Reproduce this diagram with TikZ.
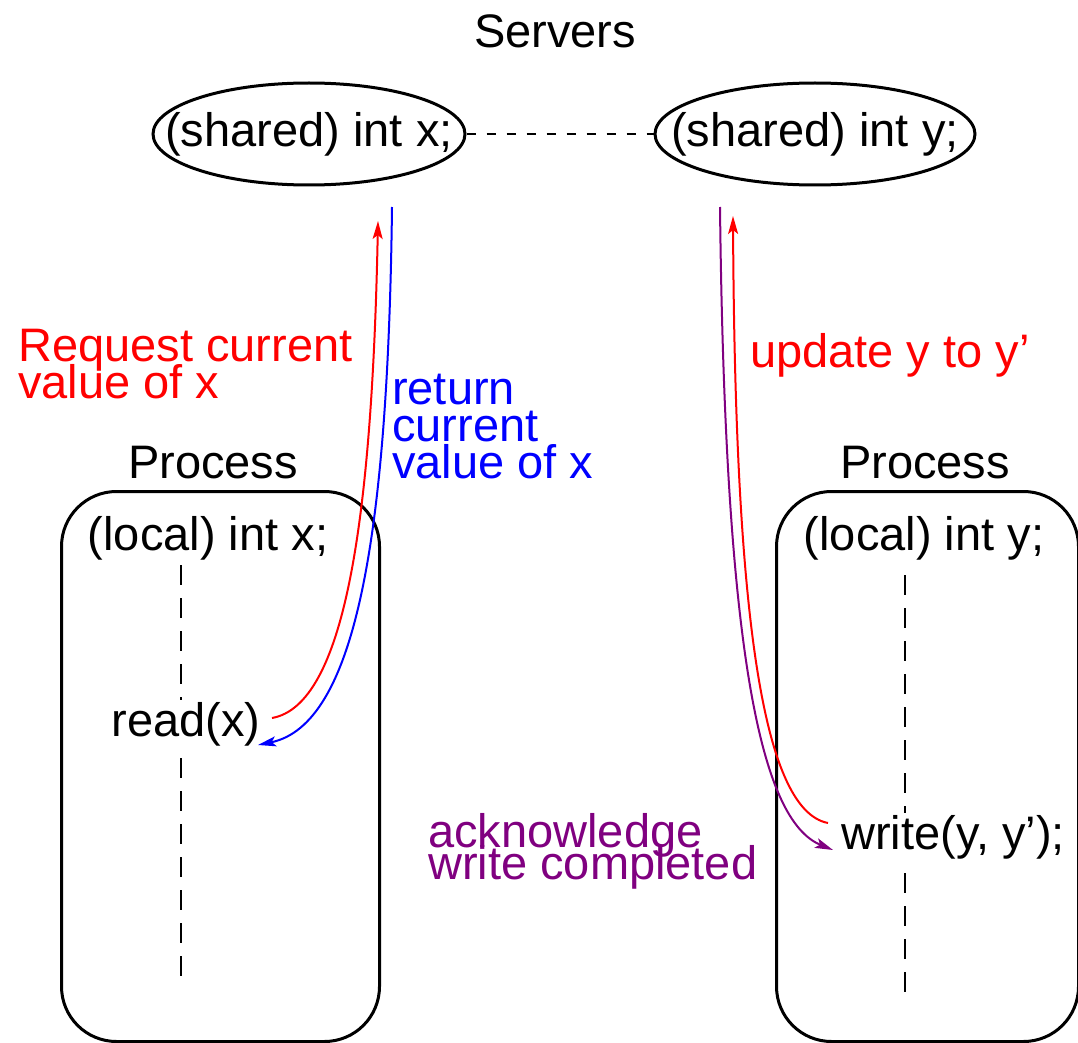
\documentclass[tikz,border=0pt]{standalone}
\usepackage{fontspec}
\setmainfont{Liberation Sans}
\usetikzlibrary{arrows.meta,shapes.geometric}
\definecolor{cred}{RGB}{255,0,0}
\definecolor{cblue}{RGB}{0,0,255}
\definecolor{cpurple}{RGB}{128,0,128}
\newcommand\dfont{\fontsize{47}{37}\selectfont\lineskiplimit=-100pt\lineskip=0pt}
\newcommand\dfontb{\fontsize{47}{32}\selectfont\lineskiplimit=-100pt\lineskip=0pt}
\begin{document}
\begin{tikzpicture}[x=1pt,y=-1pt,
  txt/.style={font=\dfont, inner sep=0pt},
  srv/.style={draw, ellipse, line width=3pt, inner sep=0pt},
  proc/.style={draw, line width=3pt, rounded corners=55pt, inner sep=0pt, anchor=north west},
  life/.style={line width=2.5pt, dash pattern=on 20pt off 13pt},
  msg/.style={line width=2pt, -{Stealth[length=18pt,width=10pt,inset=4pt]}},
]
\useasboundingbox (0,0) rectangle (1078,1043);
% servers
\node[txt, anchor=base] (servers) at (555,48) {Servers};
\node[srv, minimum width=312pt, minimum height=102pt] (sx) at (309,134) {};
\node[txt] (sxt) at (sx.center) {(shared) int x;};
\node[srv, minimum width=320pt, minimum height=102pt] (sy) at (815,134) {};
\node[txt] (syt) at (sy.center) {(shared) int y;};
\draw[line width=2pt, dash pattern=on 9pt off 11pt] (sx.east) -- (sy.west);
% processes
\node[txt, anchor=base] (p1) at (213,478) {Process};
\node[txt, anchor=base] (p2) at (925,478) {Process};
\node[proc, minimum width=318pt, minimum height=550pt] (box1) at (60,490) {};
\node[proc, minimum width=302pt, minimum height=550pt] (box2) at (775,490) {};
\node[txt] (lx) at (208,538) {(local) int x;};
\node[txt] (ly) at (924,538) {(local) int y;};
\node[txt] (rd) at (186,724) {read(x)};
\node[txt] (wr) at (953,837) {write(y, y’);};
% lifelines
\coordinate (e1) at (181,980);
\coordinate (e2) at (905,995);
\draw[life] ([yshift=-5pt]lx.south -| e1) -- ([yshift=2pt]rd.north -| e1);
\draw[life] ([yshift=-12pt]rd.south -| e1) -- (e1);
\draw[life] ([yshift=-15pt]ly.south -| e2) -- ([yshift=2pt]wr.north -| e2);
\draw[life] ([yshift=-14pt]wr.south -| e2) -- (e2);
% message end points
\coordinate (rqs) at (272,718);
\coordinate (rqe) at (378,221);
\coordinate (rts) at (392,207);
\coordinate (rte) at (258,745);
\coordinate (ups) at (828,823);
\coordinate (upe) at (733,216);
\coordinate (aks) at (720,207);
\coordinate (ake) at (833,850);
% messages
\draw[msg, cred] (rqs) .. controls (345,705) and (372,520) .. (rqe);
\draw[msg, cblue] (rts) .. controls (388,540) and (355,725) .. (rte);
\draw[msg, cred] (ups) .. controls (760,810) and (735,600) .. (upe);
\draw[msg, cpurple] (aks) .. controls (725,650) and (760,820) .. (ake);
% labels
\node[txt, cred, anchor=north west, align=left] (lreq) at (18,329) {Request current\\value of x};
\node[txt, cblue, anchor=north west, align=left] (lret) at (392,374) {return\\current\\value of x};
\node[txt, cred, anchor=base west] (lupd) at (750,367) {update y to y’};
\node[txt, cpurple, anchor=north west, align=left, font=\dfontb] (lack) at (428,813) {acknowledge\\write completed};
\end{tikzpicture}
\end{document}
